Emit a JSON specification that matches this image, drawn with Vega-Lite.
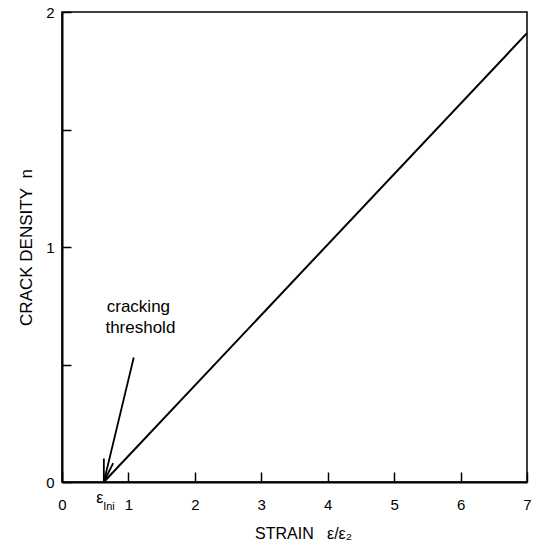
{
  "$schema": "https://vega.github.io/schema/vega-lite/v6.json",
  "width": 465,
  "height": 470,
  "autosize": {"type": "none"},
  "padding": {"left": 62, "top": 12, "right": 10, "bottom": 68},
  "background": "white",
  "config": {
    "view": {"stroke": "black", "strokeWidth": 1.5},
    "font": "Liberation Sans",
    "axis": {
      "grid": false,
      "domainColor": "black",
      "domainWidth": 2,
      "tickColor": "black",
      "tickWidth": 1.5,
      "labelColor": "black",
      "titleColor": "black",
      "labelFont": "Liberation Sans",
      "titleFont": "Liberation Sans",
      "labelFontSize": 15,
      "titleFontSize": 15,
      "titleFontWeight": "normal"
    }
  },
  "datasets": {
    "curve": [
      {"strain": 0.63, "n": 0},
      {"strain": 7, "n": 1.91}
    ],
    "arrow": [
      {"x1": 1.08, "y1": 0.53, "x2": 0.63, "y2": 0},
      {"x1": 0.63, "y1": 0, "x2": 0.63, "y2": 0.1},
      {"x1": 0.63, "y1": 0, "x2": 0.77, "y2": 0.08}
    ],
    "notes": [
      {"x": 1.15, "y": 0.745, "label": "cracking"},
      {"x": 1.18, "y": 0.655, "label": "threshold"}
    ],
    "eps": [
      {"x": 0.57, "y": -0.09, "label": "ε"}
    ],
    "sub": [
      {"x": 0.62, "y": -0.12, "label": "Ini"}
    ]
  },
  "layer": [
    {
      "data": {"name": "curve"},
      "mark": {"type": "line", "color": "black", "strokeWidth": 2},
      "encoding": {
        "x": {
          "field": "strain", "type": "quantitative",
          "scale": {"domain": [0, 7], "nice": false, "zero": false},
          "axis": {
            "values": [0, 1, 2, 3, 4, 5, 6, 7],
            "format": "d",
            "tickSize": -10,
            "labelPadding": 25,
            "title": "STRAIN\u00a0\u00a0\u00a0ε/ε₂",
            "titleFontSize": 16,
            "titleX": 241,
            "titleAlign": "center",
            "titlePadding": 13,
            "labelFlush": false
          }
        },
        "y": {
          "field": "n", "type": "quantitative",
          "scale": {"domain": [0, 2], "nice": false},
          "axis": {
            "values": [0, 0.5, 1, 1.5, 2],
            "tickSize": -9,
            "labelPadding": 17,
            "labelExpr": "datum.value % 1 == 0 ? format(datum.value, 'd') : ''",
            "title": "CRACK DENSITY\u00a0\u00a0n",
            "titleFontSize": 17,
            "titlePadding": 10,
            "labelFlush": false
          }
        }
      }
    },
    {
      "data": {"name": "arrow"},
      "mark": {"type": "rule", "color": "black", "strokeWidth": 1.8},
      "encoding": {
        "x": {"field": "x1", "type": "quantitative"},
        "y": {"field": "y1", "type": "quantitative"},
        "x2": {"field": "x2"},
        "y2": {"field": "y2"}
      }
    },
    {
      "data": {"name": "notes"},
      "mark": {"type": "text", "fontSize": 17, "color": "black", "align": "center", "baseline": "middle", "font": "Liberation Sans"},
      "encoding": {
        "x": {"field": "x", "type": "quantitative"},
        "y": {"field": "y", "type": "quantitative"},
        "text": {"field": "label"}
      }
    },
    {
      "data": {"name": "eps"},
      "mark": {"type": "text", "fontSize": 16, "color": "black", "align": "center", "baseline": "alphabetic", "font": "Liberation Sans"},
      "encoding": {
        "x": {"field": "x", "type": "quantitative"},
        "y": {"field": "y", "type": "quantitative"},
        "text": {"field": "label"}
      }
    },
    {
      "data": {"name": "sub"},
      "mark": {"type": "text", "fontSize": 11, "color": "black", "align": "left", "baseline": "alphabetic", "font": "Liberation Sans"},
      "encoding": {
        "x": {"field": "x", "type": "quantitative"},
        "y": {"field": "y", "type": "quantitative"},
        "text": {"field": "label"}
      }
    }
  ]
}
